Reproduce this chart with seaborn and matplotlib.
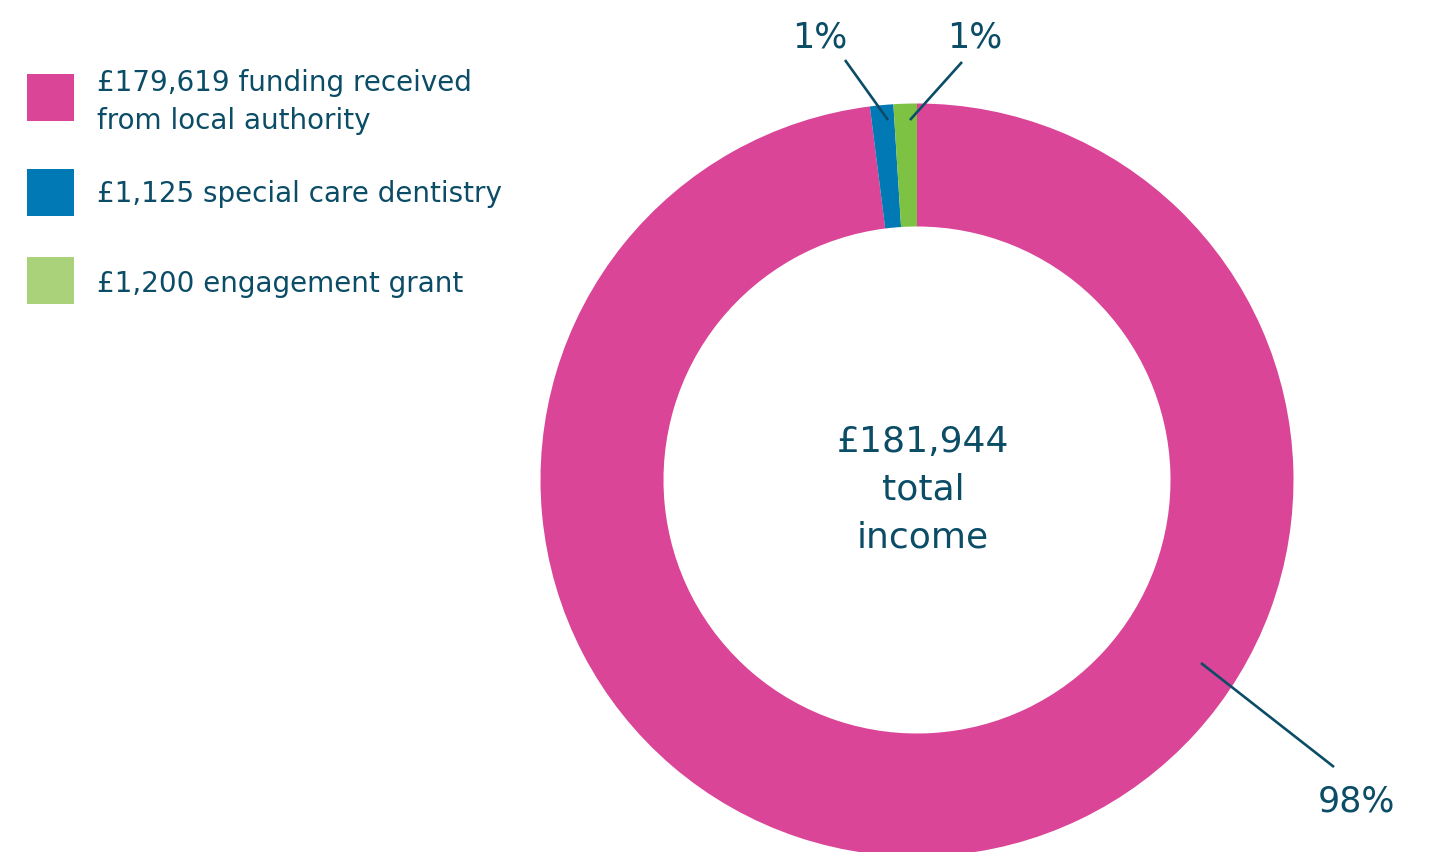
import matplotlib
matplotlib.use("Agg")
import matplotlib.pyplot as plt
import seaborn as sns
from matplotlib.patches import Rectangle

# ---- data ----
categories = ["£179,619 funding received\nfrom local authority",
              "£1,125 special care dentistry",
              "£1,200 engagement grant"]
amounts = [179619, 1125, 1200]
percent = [98, 1, 1]
pct_labels = ["98%", "1%", "1%"]
center_label = "£181,944\ntotal\nincome"

slice_colors = ["#DA4598", "#0079B5", "#7DC242"]
legend_colors = ["#DA4598", "#0079B5", "#A9D27A"]
text_color = "#0B4C66"

sns.set_theme(style="white")
plt.rcParams['font.family'] = ['DejaVu Sans']

W, H = 1433, 852
fig = plt.figure(figsize=(W / 100, H / 100), dpi=100)
ax = fig.add_axes([0, 0, 1, 1])

cx, cy = 917, H - 480
R = 376.5
wedges, _ = ax.pie(percent, colors=slice_colors, startangle=90, counterclock=False,
                   radius=R, center=(cx, cy),
                   wedgeprops=dict(width=123, linewidth=0))
ax.set_xlim(0, W)
ax.set_ylim(0, H)
ax.set_aspect('equal')
ax.axis('off')

# centre text
ax.text(cx + 6, H - 490, center_label, ha='center', va='center', fontsize=26,
        color=text_color, linespacing=1.5)

# percentage labels with leader lines (layout positions in px)
ann = [  # (line start, line end, text pos)
    ((1201, 663), (1334, 767), (1356, 802)),
    ((888, 120), (845, 60), (820, 37)),
    ((910, 120), (962, 62), (975, 37)),
]
for lab, (p0, p1, pt) in zip(pct_labels, ann):
    ax.plot([p0[0], p1[0]], [H - p0[1], H - p1[1]], color=text_color, lw=1.9,
            solid_capstyle='butt')
    ax.text(pt[0], H - pt[1], lab, ha='center', va='center', fontsize=25,
            color=text_color)

# legend (manual)
sq_tops = [74, 169, 257]
text_y = [102, 194, 284]
for cat, col, top, ty in zip(categories, legend_colors, sq_tops, text_y):
    ax.add_patch(Rectangle((27, H - top - 47), 47, 47, facecolor=col,
                           edgecolor='none'))
    ax.text(97, H - ty, cat, ha='left', va='center', fontsize=20,
            color=text_color, linespacing=1.45)

fig.savefig("out.png", dpi=100)
